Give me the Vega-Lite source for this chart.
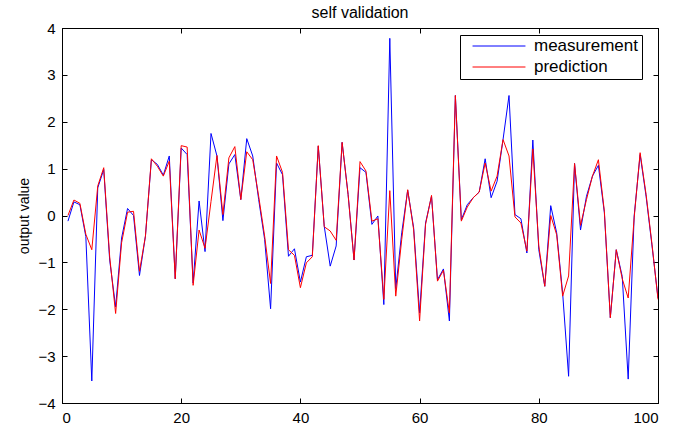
{
  "$schema": "https://vega.github.io/schema/vega-lite/v6.json",
  "autosize": "none",
  "width": 596,
  "height": 375,
  "padding": {"left": 62, "top": 28, "right": 17, "bottom": 27},
  "background": "white",
  "title": {"text": "self validation", "fontSize": 16, "font": "Liberation Sans", "fontWeight": "normal", "color": "black", "offset": 0, "frame": "group", "anchor": "middle"},
  "config": {
    "view": {"stroke": "black", "strokeWidth": 1},
    "axis": {"domainColor": "black", "domainWidth": 1, "tickColor": "black", "tickWidth": 1, "tickSize": -5, "grid": false,
      "labelFont": "Liberation Sans", "labelFontSize": 15, "labelColor": "black",
      "titleFont": "Liberation Sans", "titleFontSize": 14, "titleFontWeight": "normal", "titleColor": "black"},
    "legend": {"orient": "none", "legendX": 398, "legendY": 7, "strokeColor": "black", "fillColor": "white", "padding": 4,
      "symbolType": "stroke", "symbolSize": 2800, "symbolStrokeWidth": 1, "clipHeight": 14, "rowPadding": 4,
      "labelFont": "Liberation Sans", "labelFontSize": 17, "labelColor": "black", "labelOffset": 8, "symbolOffset": 8}
  },
  "data": {"values": [
    {"index":1,"measurement":-0.12,"prediction":0.0},
    {"index":2,"measurement":0.29,"prediction":0.33},
    {"index":3,"measurement":0.23,"prediction":0.26},
    {"index":4,"measurement":-0.45,"prediction":-0.40},
    {"index":5,"measurement":-3.53,"prediction":-0.73},
    {"index":6,"measurement":0.59,"prediction":0.63},
    {"index":7,"measurement":0.98,"prediction":1.02},
    {"index":8,"measurement":-0.95,"prediction":-0.88},
    {"index":9,"measurement":-1.95,"prediction":-2.09},
    {"index":10,"measurement":-0.48,"prediction":-0.58},
    {"index":11,"measurement":0.15,"prediction":0.07},
    {"index":12,"measurement":0.0,"prediction":0.09},
    {"index":13,"measurement":-1.28,"prediction":-1.19},
    {"index":14,"measurement":-0.44,"prediction":-0.44},
    {"index":15,"measurement":1.19,"prediction":1.21},
    {"index":16,"measurement":1.09,"prediction":1.05},
    {"index":17,"measurement":0.86,"prediction":0.84},
    {"index":18,"measurement":1.27,"prediction":1.16},
    {"index":19,"measurement":-1.35,"prediction":-1.35},
    {"index":20,"measurement":1.44,"prediction":1.49},
    {"index":21,"measurement":1.30,"prediction":1.46},
    {"index":22,"measurement":-1.44,"prediction":-1.49},
    {"index":23,"measurement":0.31,"prediction":-0.31},
    {"index":24,"measurement":-0.77,"prediction":-0.70},
    {"index":25,"measurement":1.75,"prediction":0.30},
    {"index":26,"measurement":1.27,"prediction":1.28},
    {"index":27,"measurement":-0.11,"prediction":0.02},
    {"index":28,"measurement":1.10,"prediction":1.23},
    {"index":29,"measurement":1.30,"prediction":1.47},
    {"index":30,"measurement":0.34,"prediction":0.34},
    {"index":31,"measurement":1.64,"prediction":1.36},
    {"index":32,"measurement":1.27,"prediction":1.19},
    {"index":33,"measurement":0.34,"prediction":0.41},
    {"index":34,"measurement":-0.51,"prediction":-0.44},
    {"index":35,"measurement":-1.99,"prediction":-1.45},
    {"index":36,"measurement":1.12,"prediction":1.27},
    {"index":37,"measurement":0.87,"prediction":0.92},
    {"index":38,"measurement":-0.87,"prediction":-0.73},
    {"index":39,"measurement":-0.71,"prediction":-0.85},
    {"index":40,"measurement":-1.42,"prediction":-1.54},
    {"index":41,"measurement":-0.88,"prediction":-1.01},
    {"index":42,"measurement":-0.85,"prediction":-0.88},
    {"index":43,"measurement":1.48,"prediction":1.49},
    {"index":44,"measurement":-0.23,"prediction":-0.24},
    {"index":45,"measurement":-1.08,"prediction":-0.33},
    {"index":46,"measurement":-0.65,"prediction":-0.53},
    {"index":47,"measurement":1.56,"prediction":1.56},
    {"index":48,"measurement":0.45,"prediction":0.45},
    {"index":49,"measurement":-0.95,"prediction":-0.95},
    {"index":50,"measurement":1.02,"prediction":1.15},
    {"index":51,"measurement":0.92,"prediction":0.95},
    {"index":52,"measurement":-0.19,"prediction":-0.12},
    {"index":53,"measurement":-0.01,"prediction":-0.07},
    {"index":54,"measurement":-1.90,"prediction":-1.79},
    {"index":55,"measurement":3.78,"prediction":0.53},
    {"index":56,"measurement":-1.56,"prediction":-1.72},
    {"index":57,"measurement":-0.37,"prediction":-0.51},
    {"index":58,"measurement":0.54,"prediction":0.55},
    {"index":59,"measurement":-0.26,"prediction":-0.30},
    {"index":60,"measurement":-2.08,"prediction":-2.25},
    {"index":61,"measurement":-0.16,"prediction":-0.19},
    {"index":62,"measurement":0.41,"prediction":0.43},
    {"index":63,"measurement":-1.37,"prediction":-1.40},
    {"index":64,"measurement":-1.14,"prediction":-1.17},
    {"index":65,"measurement":-2.25,"prediction":-2.08},
    {"index":66,"measurement":2.56,"prediction":2.56},
    {"index":67,"measurement":-0.09,"prediction":-0.12},
    {"index":68,"measurement":0.23,"prediction":0.18},
    {"index":69,"measurement":0.38,"prediction":0.38},
    {"index":70,"measurement":0.50,"prediction":0.50},
    {"index":71,"measurement":1.21,"prediction":1.12},
    {"index":72,"measurement":0.38,"prediction":0.52},
    {"index":73,"measurement":0.73,"prediction":0.84},
    {"index":74,"measurement":1.62,"prediction":1.62},
    {"index":75,"measurement":2.56,"prediction":1.27},
    {"index":76,"measurement":0.02,"prediction":-0.03},
    {"index":77,"measurement":-0.07,"prediction":-0.16},
    {"index":78,"measurement":-0.80,"prediction":-0.76},
    {"index":79,"measurement":1.61,"prediction":1.42},
    {"index":80,"measurement":-0.73,"prediction":-0.65},
    {"index":81,"measurement":-1.51,"prediction":-1.51},
    {"index":82,"measurement":0.21,"prediction":0.0},
    {"index":83,"measurement":-0.37,"prediction":-0.41},
    {"index":84,"measurement":-1.65,"prediction":-1.72},
    {"index":85,"measurement":-3.43,"prediction":-1.29},
    {"index":86,"measurement":1.11,"prediction":1.11},
    {"index":87,"measurement":-0.31,"prediction":-0.21},
    {"index":88,"measurement":0.41,"prediction":0.34},
    {"index":89,"measurement":0.84,"prediction":0.84},
    {"index":90,"measurement":1.07,"prediction":1.19},
    {"index":91,"measurement":0.06,"prediction":0.09},
    {"index":92,"measurement":-2.18,"prediction":-2.18},
    {"index":93,"measurement":-0.73,"prediction":-0.73},
    {"index":94,"measurement":-1.30,"prediction":-1.35},
    {"index":95,"measurement":-3.49,"prediction":-1.76},
    {"index":96,"measurement":-0.01,"prediction":-0.05},
    {"index":97,"measurement":1.30,"prediction":1.34},
    {"index":98,"measurement":0.41,"prediction":0.45},
    {"index":99,"measurement":-0.65,"prediction":-0.62},
    {"index":100,"measurement":-1.76,"prediction":-1.79}
  ]},
  "layer": [
    {
      "mark": {"type": "line", "strokeWidth": 1, "clip": true},
      "encoding": {
        "x": {"field": "index", "type": "quantitative", "scale": {"domain": [0, 100], "nice": false, "zero": false},
          "axis": {"values": [0, 20, 40, 60, 80, 100], "title": null, "labelPadding": 12, "orient": "bottom"}},
        "y": {"field": "measurement", "type": "quantitative", "scale": {"domain": [-4, 4], "nice": false},
          "axis": {"values": [-4, -3, -2, -1, 0, 1, 2, 3, 4], "title": "output value", "labelPadding": 12, "titlePadding": 6, "orient": "left"}},
        "color": {"datum": "measurement", "type": "nominal", "scale": {"domain": ["measurement", "prediction"], "range": ["#0000ff", "#ff0000"]},
          "legend": {"title": null}}
      }
    },
    {
      "mark": {"type": "line", "strokeWidth": 1, "clip": true},
      "encoding": {
        "x": {"field": "index", "type": "quantitative",
          "axis": {"values": [0, 20, 40, 60, 80, 100], "title": null, "labels": false, "orient": "top"}},
        "y": {"field": "prediction", "type": "quantitative",
          "axis": {"values": [-4, -3, -2, -1, 0, 1, 2, 3, 4], "title": null, "labels": false, "orient": "right"}},
        "color": {"datum": "prediction", "type": "nominal"}
      }
    }
  ],
  "resolve": {"axis": {"x": "independent", "y": "independent"}}
}
